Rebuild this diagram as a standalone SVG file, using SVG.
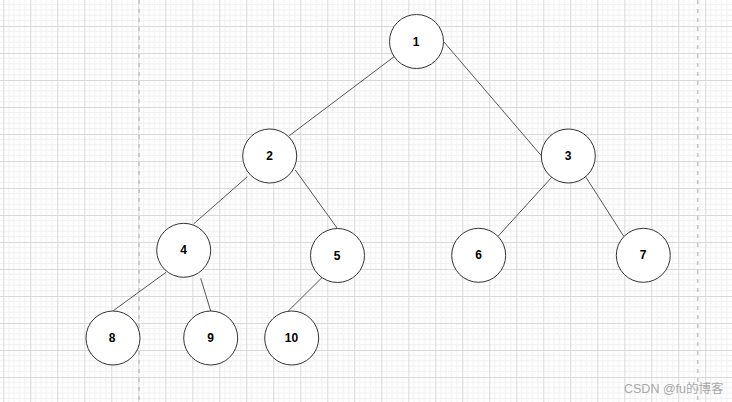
<svg xmlns="http://www.w3.org/2000/svg" width="732" height="402" viewBox="0 0 732 402">
  <defs>
    <pattern id="grid" patternUnits="userSpaceOnUse" x="3.3" y="-1" width="27" height="27">
      <rect width="27" height="27" fill="#ffffff"/>
      <path d="M5.4 0V27M10.8 0V27M16.2 0V27M21.6 0V27M0 5.4H27M0 10.8H27M0 16.2H27M0 21.6H27" stroke="#f1f1f1" stroke-width="1" fill="none"/>
      <path d="M0.5 0V27M0 0.5H27" stroke="#d9d9d9" stroke-width="1" fill="none"/>
    </pattern>
    <style>
      .node circle { fill: #ffffff; stroke: #333333; stroke-width: 1; }
      .node text { font-family: "Liberation Sans", Arial, sans-serif; font-size: 12px; font-weight: bold; fill: #000000; text-anchor: middle; }
      #edges line { stroke: #555555; stroke-width: 1; }
      .page { stroke: #c4c4c4; stroke-width: 1.6; stroke-dasharray: 4 5; }
      .wm { font-family: "Liberation Sans", "Noto Sans CJK SC", sans-serif; font-size: 12.5px; fill: #a8a8a8; }
    </style>
  </defs>
  <rect width="732" height="402" fill="url(#grid)"/>
  <line class="page" x1="139" y1="0" x2="139" y2="402"/>
  <line class="page" x1="697.7" y1="0" x2="697.7" y2="402"/>

  <g id="edges">
    <line x1="395" y1="56" x2="289.3" y2="135.7"/>
    <line x1="443.7" y1="41.7" x2="541.3" y2="155.7"/>
    <line x1="247.3" y1="176.7" x2="193.5" y2="224"/>
    <line x1="295.3" y1="170" x2="337.3" y2="228.3"/>
    <line x1="551.7" y1="177.3" x2="498.3" y2="236"/>
    <line x1="586" y1="177.3" x2="624" y2="236.7"/>
    <line x1="166" y1="272.3" x2="113.3" y2="310.7"/>
    <line x1="200.7" y1="278.3" x2="210.7" y2="311"/>
    <line x1="322.3" y1="277.3" x2="288.3" y2="311"/>
  </g>

  <g id="node1" class="node"><circle cx="416.5" cy="41.5" r="27"/><text x="416" y="45.5">1</text></g>
  <g id="node2" class="node"><circle cx="269.7" cy="156" r="27"/><text x="269.5" y="160">2</text></g>
  <g id="node3" class="node"><circle cx="568.3" cy="156" r="27"/><text x="568" y="160">3</text></g>
  <g id="node4" class="node"><circle cx="183.7" cy="250.3" r="27"/><text x="183.5" y="254.3">4</text></g>
  <g id="node5" class="node"><circle cx="337.5" cy="255.5" r="27"/><text x="337" y="259.5">5</text></g>
  <g id="node6" class="node"><circle cx="478.7" cy="255.3" r="27"/><text x="478.5" y="259.3">6</text></g>
  <g id="node7" class="node"><circle cx="643.3" cy="255.3" r="27"/><text x="643" y="259.3">7</text></g>
  <g id="node8" class="node"><circle cx="113" cy="338" r="27"/><text x="112" y="342">8</text></g>
  <g id="node9" class="node"><circle cx="210.7" cy="338" r="27"/><text x="210.5" y="342">9</text></g>
  <g id="node10" class="node"><circle cx="291.7" cy="338" r="27"/><text x="291.5" y="342">10</text></g>

  <text class="wm" x="624" y="393">CSDN @fu的博客</text>
</svg>
